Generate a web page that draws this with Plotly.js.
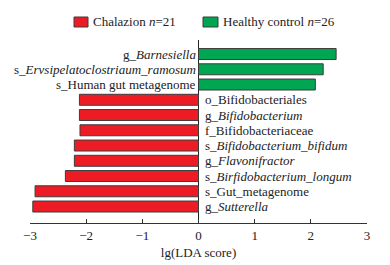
<!DOCTYPE html>
<html>
<head>
<meta charset="utf-8">
<script src="https://cdn.plot.ly/plotly-3.0.1.min.js"></script>
<style>html,body{margin:0;padding:0;background:#fff;}#chart{width:390px;height:265px;}</style>
</head>
<body>
<div id="chart"></div>
<script>
// Data (top to bottom)
var taxa = [
  "g_Barnesiella",
  "s_Ervsipelatoclostriaum_ramosum",
  "s_Human gut metagenome",
  "o_Bifidobacteriales",
  "g_Bifidobacterium",
  "f_Bifidobacteriaceae",
  "s_Bifidobacterium_bifidum",
  "g_Flavonifractor",
  "s_Birfidobacterium_longum",
  "s_Gut_metagenome",
  "g_Sutterella"
];
var taxaLabels = [
  "g_<i>Barnesiella</i>",
  "s_<i>Ervsipelatoclostriaum_ramosum</i>",
  "s_Human gut metagenome",
  "o_Bifidobacteriales",
  "g_<i>Bifidobacterium</i>",
  "f_Bifidobacteriaceae",
  "s_<i>Bifidobacterium_bifidum</i>",
  "g_<i>Flavonifractor</i>",
  "s_<i>Birfidobacterium_longum</i>",
  "s_Gut_metagenome",
  "g_<i>Sutterella</i>"
];
var ldaScores = [2.45, 2.22, 2.08, -2.12, -2.12, -2.11, -2.21, -2.21, -2.37, -2.91, -2.95];
var groupNames = ["Chalazion <i>n</i>=21", "Healthy control <i>n</i>=26"];
var groupColors = ["#ED1C24", "#00A651"];
var xTicks = [-3, -2, -1, 0, 1, 2, 3];

var negY = [], negX = [], posY = [], posX = [];
taxa.forEach(function(t, i) {
  if (ldaScores[i] < 0) { negY.push(t); negX.push(ldaScores[i]); }
  else { posY.push(t); posX.push(ldaScores[i]); }
});

var font = "Liberation Serif, Times New Roman, serif";
var traces = [
  {type: "bar", orientation: "h", x: negX, y: negY, width: 0.72,
   marker: {color: groupColors[0], line: {color: "#3c3c3c", width: 1}}, showlegend: false, hoverinfo: "none"},
  {type: "bar", orientation: "h", x: posX, y: posY, width: 0.72,
   marker: {color: groupColors[1], line: {color: "#3c3c3c", width: 1}}, showlegend: false, hoverinfo: "none"}
];

var annotations = taxa.map(function(t, i) {
  var pos = ldaScores[i] >= 0;
  return {x: 0, y: t, xref: "x", yref: "y", text: taxaLabels[i], showarrow: false,
    xanchor: pos ? "right" : "left", xshift: pos ? -1 : 4, yanchor: "middle",
    font: {family: font, size: 13, color: "#222"}};
});
// legend texts
annotations.push({x: 92, y: 22, xref: "paper", yref: "paper", text: groupNames[0], showarrow: false, visible: false});
var layout = {
  width: 390, height: 265,
  margin: {l: 30, r: 23, t: 40, b: 42},
  paper_bgcolor: "#fff", plot_bgcolor: "#fff",
  barmode: "relative",
  showlegend: false,
  font: {family: font, size: 13, color: "#222"},
  xaxis: {range: [-3, 3], tickvals: xTicks, ticks: "inside", ticklen: 4, tickcolor: "#333",
    showline: true, linecolor: "#333", linewidth: 1, showgrid: false,
    zeroline: true, zerolinecolor: "#222", zerolinewidth: 1,
    tickfont: {family: font, size: 13, color: "#222"},
    title: {text: "lg(LDA score)", font: {family: font, size: 13, color: "#222"}, standoff: 6}},
  yaxis: {type: "category", categoryorder: "array", categoryarray: taxa,
    range: [11.08, -0.92], showticklabels: false, ticks: "", showgrid: false, zeroline: false, showline: false},
  annotations: annotations.slice(0, taxa.length),
  shapes: []
};

// Custom legend (paper pixel positions converted)
function px(xp) { return (xp - 30) / (390 - 30 - 23); }
function py(yp) { return 1 - (yp - 40) / (265 - 40 - 42); }
layout.shapes.push({type: "rect", xref: "paper", yref: "paper", x0: px(74), x1: px(88), y0: py(27), y1: py(17),
  fillcolor: groupColors[0], line: {color: "#3c3c3c", width: 1}});
layout.shapes.push({type: "rect", xref: "paper", yref: "paper", x0: px(203), x1: px(218), y0: py(27), y1: py(17),
  fillcolor: groupColors[1], line: {color: "#3c3c3c", width: 1}});
layout.annotations.push({xref: "paper", yref: "paper", x: px(91), y: py(22), xanchor: "left", yanchor: "middle",
  text: groupNames[0], showarrow: false, font: {family: font, size: 13, color: "#222"}});
layout.annotations.push({xref: "paper", yref: "paper", x: px(221), y: py(22), xanchor: "left", yanchor: "middle",
  text: groupNames[1], showarrow: false, font: {family: font, size: 13, color: "#222"}});

Plotly.newPlot("chart", traces, layout, {displayModeBar: false, staticPlot: true});
</script>
</body>
</html>
